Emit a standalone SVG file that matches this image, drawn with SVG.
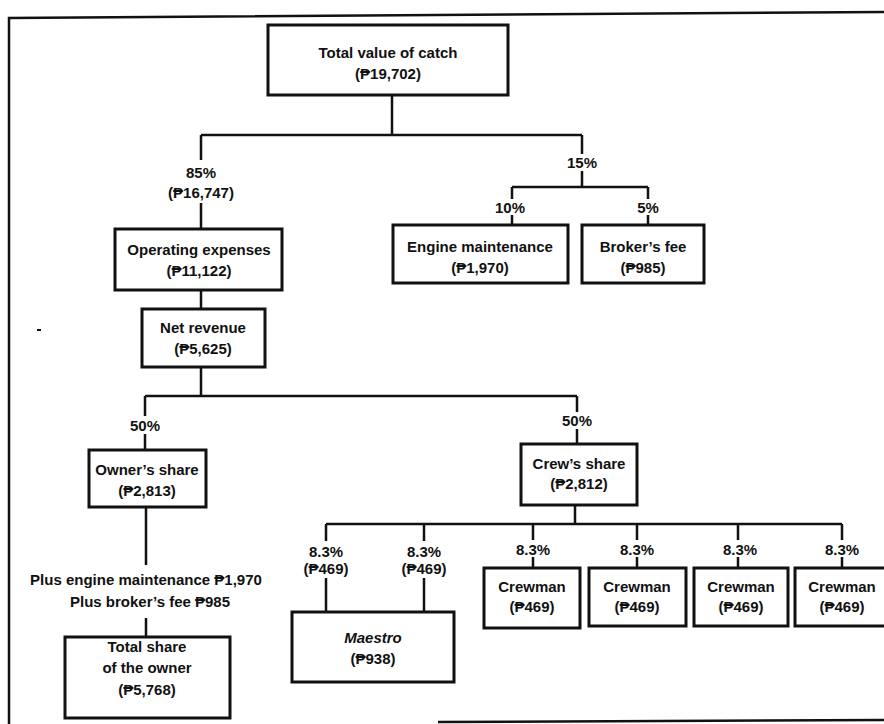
<svg xmlns="http://www.w3.org/2000/svg" width="884" height="724" viewBox="0 0 884 724">
  <style>
    .frame { fill: none; stroke: #111; stroke-width: 2.5; }
    .box { fill: #fff; stroke: #111; stroke-width: 3; }
    .wire { fill: none; stroke: #111; stroke-width: 2.5; }
    text { font-family: "Liberation Sans", Arial, "DejaVu Sans", sans-serif; font-size: 15px; font-weight: bold; fill: #111; text-anchor: middle; }
    .it { font-style: italic; }
  </style>
  <rect width="884" height="724" fill="#fff"/>

  <!-- page frame -->
  <path class="frame" d="M9,724 V18 L884,12"/>
  <path class="frame" d="M438,722 L884,720"/>
  <rect x="37" y="329" width="4" height="2" fill="#111"/>

  <!-- connectors and split labels -->
  <g id="connectors">
    <path class="wire" d="M392,95 V135 M201,135 H582"/>
    <path class="wire" d="M201,135 V160 M201,203 V229"/>
    <text x="201" y="178">85%</text>
    <text x="201" y="198">(₱16,747)</text>
    <path class="wire" d="M582,135 V154 M582,171 V187 M512,187 H648"/>
    <text x="582" y="168">15%</text>
    <path class="wire" d="M512,187 V199 M512,215 V225 M648,187 V199 M648,215 V225"/>
    <text x="510" y="213">10%</text>
    <text x="648" y="213">5%</text>
    <path class="wire" d="M201,290 V309 M201,367 V396 M145,396 H577"/>
    <path class="wire" d="M145,396 V416 M145,434 V450"/>
    <text x="145" y="431">50%</text>
    <path class="wire" d="M577,396 V412 M577,429 V444"/>
    <text x="577" y="426">50%</text>
    <path class="wire" d="M146,507 V565 M146,618 V637"/>
    <text x="146" y="585">Plus engine maintenance ₱1,970</text>
    <text x="150" y="607">Plus broker’s fee ₱985</text>
    <path class="wire" d="M575,505 V523 M326,524 H842"/>
    <path class="wire" d="M326,524 V541 M326,578 V612 M424,524 V541 M424,578 V612"/>
    <text x="326" y="557">8.3%</text>
    <text x="326" y="574">(₱469)</text>
    <text x="424" y="557">8.3%</text>
    <text x="424" y="574">(₱469)</text>
    <path class="wire" d="M533,524 V540 M533,557 V568 M637,524 V540 M637,557 V568 M738,524 V540 M738,557 V568 M842,524 V540 M842,557 V568"/>
    <text x="533" y="555">8.3%</text>
    <text x="637" y="555">8.3%</text>
    <text x="740" y="555">8.3%</text>
    <text x="842" y="555">8.3%</text>
  </g>

  <g id="total-catch">
    <rect class="box" x="268" y="25" width="240" height="70"/>
    <text x="388" y="58">Total value of catch</text>
    <text x="388" y="79">(₱19,702)</text>
  </g>
  <g id="operating-expenses">
    <rect class="box" x="115" y="229" width="167" height="61"/>
    <text x="199" y="255">Operating expenses</text>
    <text x="199" y="276">(₱11,122)</text>
  </g>
  <g id="engine-maintenance">
    <rect class="box" x="393" y="225" width="175" height="58"/>
    <text x="480" y="252">Engine maintenance</text>
    <text x="480" y="273">(₱1,970)</text>
  </g>
  <g id="brokers-fee">
    <rect class="box" x="582" y="225" width="122" height="58"/>
    <text x="643" y="252">Broker’s fee</text>
    <text x="643" y="273">(₱985)</text>
  </g>
  <g id="net-revenue">
    <rect class="box" x="142" y="309" width="123" height="58"/>
    <text x="203" y="333">Net revenue</text>
    <text x="203" y="354">(₱5,625)</text>
  </g>
  <g id="owners-share">
    <rect class="box" x="89" y="450" width="117" height="57"/>
    <text x="147" y="475">Owner’s share</text>
    <text x="147" y="496">(₱2,813)</text>
  </g>
  <g id="crews-share">
    <rect class="box" x="521" y="444" width="116" height="61"/>
    <text x="579" y="469">Crew’s share</text>
    <text x="579" y="489">(₱2,812)</text>
  </g>
  <g id="owner-total">
    <rect class="box" x="65" y="637" width="165" height="81"/>
    <text x="147" y="652">Total share</text>
    <text x="147" y="673">of the owner</text>
    <text x="147" y="695">(₱5,768)</text>
  </g>
  <g id="maestro">
    <rect class="box" x="292" y="612" width="162" height="70"/>
    <text class="it" x="373" y="643">Maestro</text>
    <text x="373" y="664">(₱938)</text>
  </g>
  <g id="crewman-1">
    <rect class="box" x="484" y="568" width="96" height="60"/>
    <text x="532" y="592">Crewman</text>
    <text x="532" y="612">(₱469)</text>
  </g>
  <g id="crewman-2">
    <rect class="box" x="589" y="568" width="97" height="58"/>
    <text x="637" y="592">Crewman</text>
    <text x="637" y="612">(₱469)</text>
  </g>
  <g id="crewman-3">
    <rect class="box" x="694" y="568" width="94" height="58"/>
    <text x="741" y="592">Crewman</text>
    <text x="741" y="612">(₱469)</text>
  </g>
  <g id="crewman-4">
    <rect class="box" x="795" y="568" width="96" height="58"/>
    <text x="842" y="592">Crewman</text>
    <text x="842" y="612">(₱469)</text>
  </g>
</svg>
